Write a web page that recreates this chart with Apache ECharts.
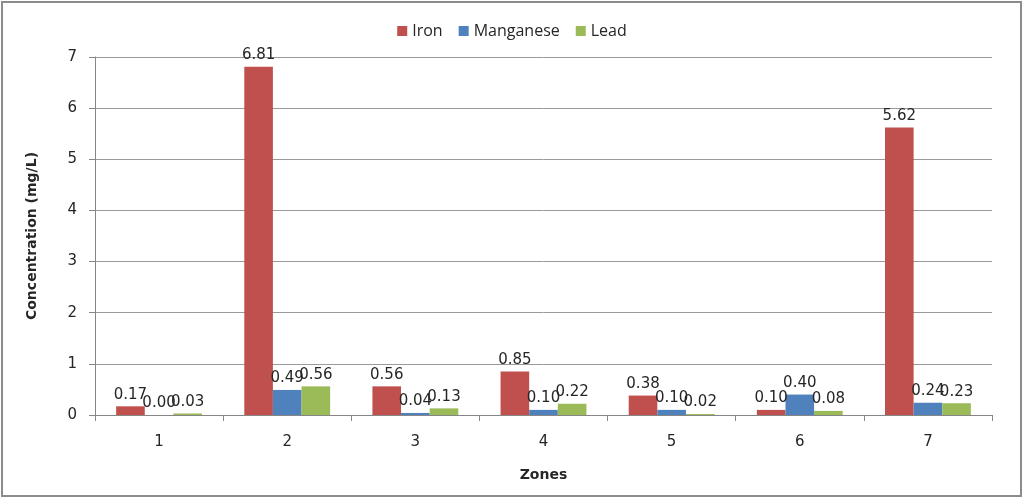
<!DOCTYPE html>
<html><head><meta charset="utf-8">
<script src="https://cdn.jsdelivr.net/npm/echarts@6/dist/echarts.min.js"></script>
<style>html,body{margin:0;padding:0;background:#fff}#c{width:1024px;height:499px}</style>
</head><body><div id="c"></div>
<script>
const zones = ['1','2','3','4','5','6','7'];
const iron = [0.17, 6.81, 0.56, 0.85, 0.38, 0.10, 5.62];
const manganese = [0.00, 0.49, 0.04, 0.10, 0.10, 0.40, 0.24];
const lead = [0.03, 0.56, 0.13, 0.22, 0.02, 0.08, 0.23];
const yTicks = [0,1,2,3,4,5,6,7];

const chart = echarts.init(document.getElementById('c'));
const lbl = {show:true, position:'top', distance:4, color:'#262626', fontFamily:'DejaVu Sans', fontSize:15,
  formatter: p => p.value.toFixed(2)};
function s(name, data, color){
  return {name, type:'bar', data, barGap:'0%', barCategoryGap:'33%', itemStyle:{color}, label:lbl};
}
chart.setOption({
  animation:false,
  graphic:[{type:'rect', shape:{x:2,y:2,width:1019,height:494}, style:{fill:'none', stroke:'#8c8c8c', lineWidth:2}, silent:true}],
  legend:{top:18, left:'center', itemWidth:10, itemHeight:10, itemGap:16, icon:'rect',
    textStyle:{fontFamily:'Open Sans', fontSize:16, color:'#262626'}, data:['Iron','Manganese','Lead']},
  grid:{left:95, right:32, top:57, bottom:84, containLabel:false},
  xAxis:{type:'category', data:zones, name:'Zones', nameLocation:'middle', nameGap:53,
    nameTextStyle:{fontFamily:'DejaVu Sans', fontWeight:'bold', fontSize:14, color:'#262626'},
    axisLine:{lineStyle:{color:'#868686'}}, axisTick:{show:true, length:6, lineStyle:{color:'#868686'}},
    axisLabel:{fontFamily:'DejaVu Sans', fontSize:15, color:'#262626', margin:20}},
  yAxis:{type:'value', min:0, max:7, interval:1, name:'Concentration (mg/L)', nameLocation:'middle', nameGap:56,
    nameTextStyle:{fontFamily:'DejaVu Sans', fontWeight:'bold', fontSize:14, color:'#262626'},
    axisLine:{show:true, lineStyle:{color:'#868686'}}, axisTick:{show:true, length:6, lineStyle:{color:'#868686'}},
    splitLine:{lineStyle:{color:'#9a9a9a'}},
    axisLabel:{fontFamily:'DejaVu Sans', fontSize:15, color:'#262626', margin:18,
      formatter: v => yTicks.includes(v) ? String(v) : ''}},
  series:[s('Iron', iron, '#C0504D'), s('Manganese', manganese, '#4F81BD'), s('Lead', lead, '#9BBB59')]
});
</script></body></html>
